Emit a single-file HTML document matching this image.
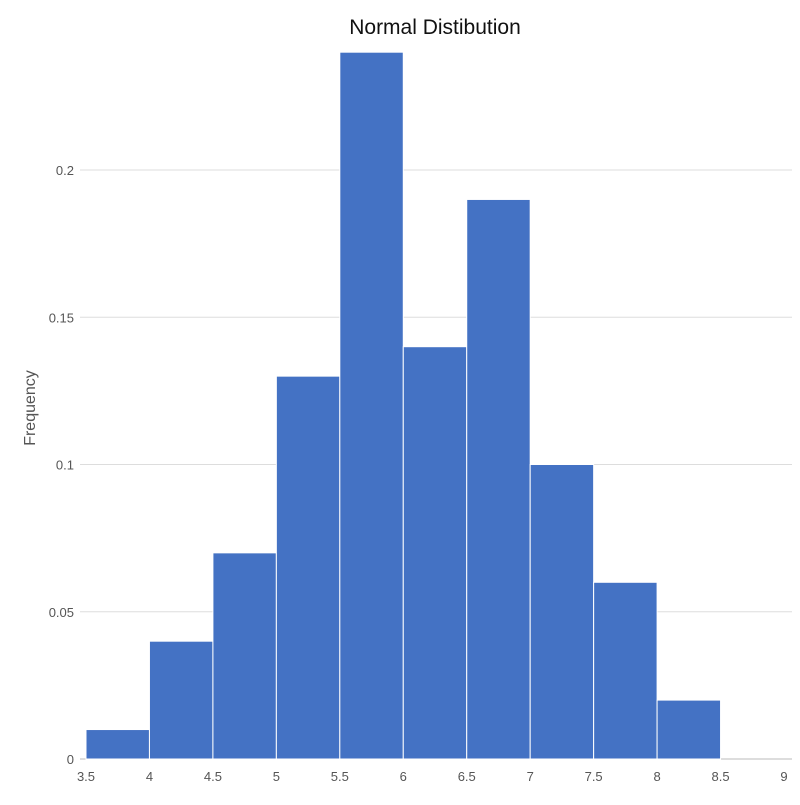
<!DOCTYPE html>
<html><head><meta charset="utf-8"><style>
body{margin:0;background:#fff;}
svg text{font-family:"Liberation Sans",sans-serif;}
</style></head><body>
<svg id="chart" width="800" height="800" xmlns="http://www.w3.org/2000/svg">
<text x="435" y="34" text-anchor="middle" font-size="21" fill="#111">Normal Distibution</text>
<text transform="translate(35,408) rotate(-90)" text-anchor="middle" font-size="16" fill="#555">Frequency</text>
<g id="grid"></g><g id="bars"></g><g id="axes"></g>
</svg>
<script>
const binStarts=[3.5,4,4.5,5,5.5,6,6.5,7,7.5,8];
const binWidth=0.5;
const freqs=[0.01,0.04,0.07,0.13,0.24,0.14,0.19,0.10,0.06,0.02];
const xTicks=[3.5,4,4.5,5,5.5,6,6.5,7,7.5,8,8.5,9];
const yTicks=[0,0.05,0.1,0.15,0.2];
const yTickLabels=["0","0.05","0.1","0.15","0.2"];
const NS="http://www.w3.org/2000/svg";
const x=v=>86+(v-3.5)*(784-86)/5.5;
const y=v=>759-v*(759-170)/0.2;
function mk(t,a,p){const e=document.createElementNS(NS,t);for(const k in a)e.setAttribute(k,a[k]);p.appendChild(e);return e;}
const grid=document.getElementById('grid'),bars=document.getElementById('bars'),axes=document.getElementById('axes');
yTicks.forEach((v,i)=>{
 const l=mk('line',{x1:80,x2:792,y1:y(v),y2:y(v),stroke:v===0?'#bbb':'#ddd','stroke-width':1},grid);
 
 
 const t=mk('text',{x:74,y:y(v)+5,'text-anchor':'end','font-size':13,fill:'#555'},axes);
 t.textContent=yTickLabels[i];
 
 
});
xTicks.forEach(v=>{
 const t=mk('text',{x:x(v),y:781,'text-anchor':'middle','font-size':13,fill:'#555'},axes);
 t.textContent=String(v);
 
 
});
freqs.forEach((f,i)=>{
 const x0=x(binStarts[i]),x1=x(binStarts[i]+binWidth);
 const r=mk('rect',{x:x0,y:y(f),width:x1-x0,height:y(0)-y(f),fill:'#4472c4',stroke:'#fff','stroke-width':1},bars);
 
 
});
</script>
</body></html>
